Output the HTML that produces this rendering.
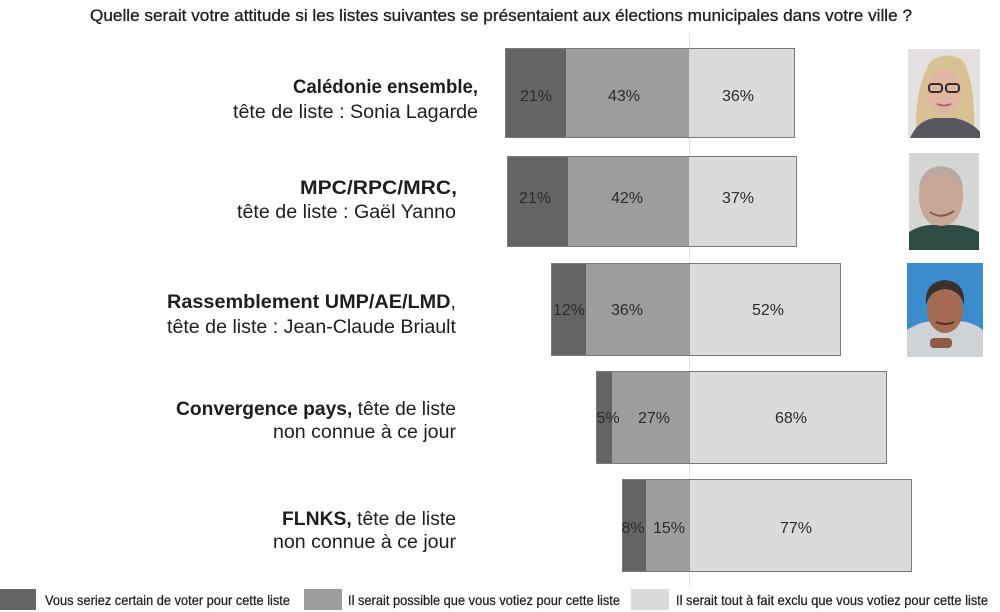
<!DOCTYPE html>
<html><head><meta charset="utf-8"><style>
html,body{margin:0;padding:0;background:#fff;}
svg{display:block;}
text{font-family:"Liberation Sans",sans-serif;fill:#1e1e1e;}
.b{font-weight:bold;}
.p{font-size:16px;fill:#2a2a2a;}
</style></head><body>
<svg width="1000" height="612" viewBox="0 0 1000 612" xmlns="http://www.w3.org/2000/svg">
<rect width="1000" height="612" fill="#fff"/>
<text x="90" y="21" font-size="17" textLength="822" lengthAdjust="spacingAndGlyphs" stroke="#1e1e1e" stroke-width="0.3">Quelle serait votre attitude si les listes suivantes se présentaient aux élections municipales dans votre ville ?</text>
<line x1="689.5" y1="33" x2="689.5" y2="586" stroke="#e2e2e2" stroke-width="1"/>

<!-- Bar 1 -->
<rect x="505" y="48" width="61" height="90" fill="#646466"/>
<rect x="566" y="48" width="123" height="90" fill="#9c9e9d"/>
<rect x="689" y="48" width="105" height="90" fill="#dbdbdb"/>
<rect x="505.5" y="48.5" width="289" height="89" fill="none" stroke="#7a7a7a"/>
<text class="p" x="536" y="101" text-anchor="middle">21%</text>
<text class="p" x="624" y="101" text-anchor="middle">43%</text>
<text class="p" x="738" y="101" text-anchor="middle">36%</text>

<!-- Bar 2 -->
<rect x="507" y="156" width="61" height="91" fill="#646466"/>
<rect x="568" y="156" width="121" height="91" fill="#9c9e9d"/>
<rect x="689" y="156" width="107" height="91" fill="#dbdbdb"/>
<rect x="507.5" y="156.5" width="289" height="90" fill="none" stroke="#7a7a7a"/>
<text class="p" x="535" y="203" text-anchor="middle">21%</text>
<text class="p" x="627" y="203" text-anchor="middle">42%</text>
<text class="p" x="738" y="203" text-anchor="middle">37%</text>

<!-- Bar 3 -->
<rect x="551" y="263" width="35" height="93" fill="#646466"/>
<rect x="586" y="263" width="104" height="93" fill="#9c9e9d"/>
<rect x="690" y="263" width="151" height="93" fill="#dbdbdb"/>
<rect x="551.5" y="263.5" width="289" height="92" fill="none" stroke="#7a7a7a"/>
<text class="p" x="569" y="315" text-anchor="middle">12%</text>
<text class="p" x="627" y="315" text-anchor="middle">36%</text>
<text class="p" x="768" y="315" text-anchor="middle">52%</text>

<!-- Bar 4 -->
<rect x="596" y="371" width="16" height="93" fill="#646466"/>
<rect x="612" y="371" width="78" height="93" fill="#9c9e9d"/>
<rect x="690" y="371" width="197" height="93" fill="#dbdbdb"/>
<rect x="596.5" y="371.5" width="290" height="92" fill="none" stroke="#7a7a7a"/>
<text class="p" x="608" y="423" text-anchor="middle">5%</text>
<text class="p" x="654" y="423" text-anchor="middle">27%</text>
<text class="p" x="791" y="423" text-anchor="middle">68%</text>

<!-- Bar 5 -->
<rect x="622" y="479" width="24" height="93" fill="#646466"/>
<rect x="646" y="479" width="44" height="93" fill="#9c9e9d"/>
<rect x="690" y="479" width="222" height="93" fill="#dbdbdb"/>
<rect x="622.5" y="479.5" width="289" height="92" fill="none" stroke="#7a7a7a"/>
<text class="p" x="633" y="533" text-anchor="middle">8%</text>
<text class="p" x="669" y="533" text-anchor="middle">15%</text>
<text class="p" x="796" y="533" text-anchor="middle">77%</text>

<!-- Labels -->
<text class="b" x="293" y="93" font-size="19" textLength="185" lengthAdjust="spacingAndGlyphs">Calédonie ensemble,</text>
<text x="233" y="118" font-size="19" textLength="245" lengthAdjust="spacingAndGlyphs">tête de liste : Sonia Lagarde</text>

<text class="b" x="300" y="194" font-size="19" textLength="157" lengthAdjust="spacingAndGlyphs">MPC/RPC/MRC,</text>
<text x="237" y="218" font-size="19" textLength="219" lengthAdjust="spacingAndGlyphs">tête de liste : Gaël Yanno</text>

<text x="167" y="308" font-size="19" textLength="289" lengthAdjust="spacingAndGlyphs"><tspan class="b">Rassemblement UMP/AE/LMD</tspan>,</text>
<text x="167" y="333" font-size="19" textLength="289" lengthAdjust="spacingAndGlyphs">tête de liste : Jean-Claude Briault</text>

<text x="176" y="415" font-size="19" textLength="280" lengthAdjust="spacingAndGlyphs"><tspan class="b">Convergence pays,</tspan> tête de liste</text>
<text x="273" y="438" font-size="19" textLength="183" lengthAdjust="spacingAndGlyphs">non connue à ce jour</text>

<text x="282" y="525" font-size="19" textLength="174" lengthAdjust="spacingAndGlyphs"><tspan class="b">FLNKS,</tspan> tête de liste</text>
<text x="273" y="548" font-size="19" textLength="183" lengthAdjust="spacingAndGlyphs">non connue à ce jour</text>

<!-- Photo 1 -->
<g>
<rect x="908" y="49" width="72" height="89" fill="#e6e1e1"/>
<path d="M916 138 Q914 90 930 62 Q945 50 962 60 Q976 80 974 138 Z" fill="#d9c196"/>
<ellipse cx="944" cy="92" rx="17" ry="22" fill="#e2b4a4"/>
<rect x="929" y="84" width="13" height="8" rx="3" fill="none" stroke="#3a2a2a" stroke-width="2"/>
<rect x="946" y="84" width="13" height="8" rx="3" fill="none" stroke="#3a2a2a" stroke-width="2"/>
<path d="M937 104 Q944 107 951 104" stroke="#b0606a" stroke-width="2" fill="none"/>
<path d="M910 138 Q918 120 935 118 L955 118 Q972 122 980 132 L980 138 Z" fill="#5a5660"/>
</g>
<!-- Photo 2 -->
<g>
<rect x="909" y="153" width="70" height="97" fill="#d6d6d4"/>
<ellipse cx="941" cy="197" rx="22" ry="30" fill="#c9a797"/>
<path d="M919 190 Q920 168 941 166 Q962 168 963 190 Q958 176 941 175 Q925 176 919 190Z" fill="#b8a8a0"/>
<path d="M930 212 Q941 220 954 211" stroke="#8a5a50" stroke-width="2" fill="none"/>
<path d="M909 250 L909 232 Q925 222 941 226 Q960 222 979 232 L979 250 Z" fill="#2f4c44"/>
</g>
<!-- Photo 3 -->
<g>
<rect x="907" y="263" width="76" height="94" fill="#3b8ccd"/>
<path d="M907 357 L907 330 Q925 318 945 322 Q968 318 983 330 L983 357 Z" fill="#cfd3d8"/>
<ellipse cx="945" cy="310" rx="18" ry="23" fill="#a46b52"/>
<path d="M926 305 Q924 282 945 280 Q966 282 964 305 Q960 290 945 289 Q930 290 926 305Z" fill="#3a302c"/>
<path d="M936 322 Q945 326 954 322" stroke="#5a2e24" stroke-width="2" fill="none"/>
<rect x="930" y="338" width="22" height="10" rx="4" fill="#8e5a44"/>
</g>

<!-- Legend -->
<rect x="0" y="589" width="36" height="21" fill="#646466"/>
<text x="45" y="605" font-size="14" textLength="245" lengthAdjust="spacingAndGlyphs" stroke="#1e1e1e" stroke-width="0.25">Vous seriez certain de voter pour cette liste</text>
<rect x="304" y="589" width="38" height="21" fill="#9c9e9d"/>
<text x="348" y="605" font-size="14" textLength="272" lengthAdjust="spacingAndGlyphs" stroke="#1e1e1e" stroke-width="0.25">Il serait possible que vous votiez pour cette liste</text>
<rect x="631" y="589" width="38" height="21" fill="#dbdbdb"/>
<text x="676" y="605" font-size="14" textLength="312" lengthAdjust="spacingAndGlyphs" stroke="#1e1e1e" stroke-width="0.25">Il serait tout à fait exclu que vous votiez pour cette liste</text>
</svg>
</body></html>
